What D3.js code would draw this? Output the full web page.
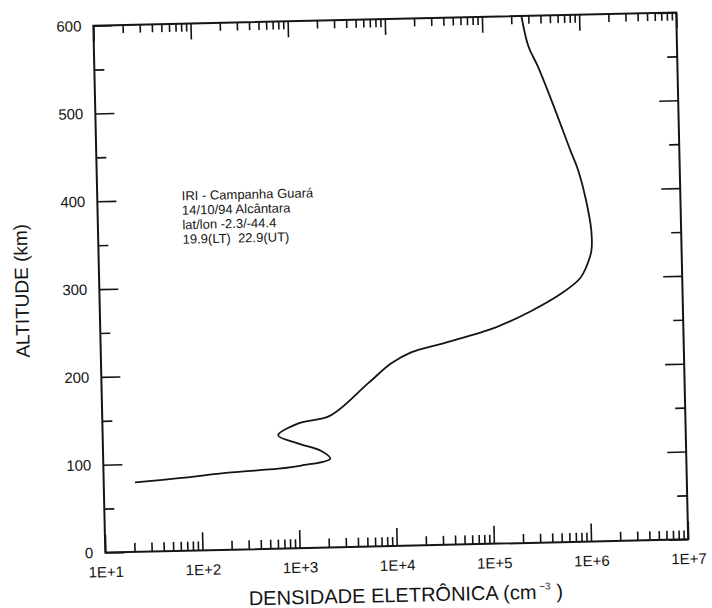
<!DOCTYPE html>
<html>
<head>
<meta charset="utf-8">
<script src="https://cdn.jsdelivr.net/npm/d3@7"></script>
<style>
  body { margin: 0; background: #fff; }
  svg { display: block; font-family: "Liberation Sans", Arial, sans-serif; }
  text { white-space: pre; }
</style>
</head>
<body>
<svg width="712" height="608"></svg>
<script>
// profile (altitude in km, density in cm^-3)
var altitude = [79, 83, 88, 91, 94, 101, 110, 119, 129, 142, 150, 186, 208, 220, 230, 246, 264, 283, 300, 312, 331, 354, 388, 423, 446, 492, 541, 566, 600];
var density = [21, 63, 207, 630, 1090, 2170, 1760, 1030, 640, 1040, 2220, 5560, 9700, 15600, 35000, 116000, 275000, 565000, 890000, 1030000, 1180000, 1190000, 1070000, 900000, 755000, 540000, 370000, 295000, 255000];

var decades = [1e1, 1e2, 1e3, 1e4, 1e5, 1e6, 1e7];
var altTicks = [0, 100, 200, 300, 400, 500, 600];
var altMinor = [50, 150, 250, 350, 450, 550];
var notes = ["IRI - Campanha Guará", "14/10/94 Alcântara", "lat/lon -2.3/-44.4", "19.9(LT)  22.9(UT)"];

function main() {
	var svg = d3.select('svg');
	var left = 99.25, right = 682.25, top = 19, bottom = 546;
	var cx = (left + right) / 2, cy = (top + bottom) / 2;
	var ink = '#151515';

	var minor = [];
	decades.slice(0, -1).forEach(function(d) {
		for (var k = 2; k <= 9; k++) minor.push(k * d);
	});

	var x = d3.scaleLog().domain([1e1, 1e7]).range([left, right]);
	var y = d3.scaleLinear().domain([0, 600]).range([bottom, top]);

	// the scanned page is tilted a little
	var g = svg.append('g')
		.attr('transform', 'rotate(-1.3,' + cx + ',' + cy + ')');

	function styleAxis(sel) {
		sel.select('.domain').remove();
		sel.selectAll('line').attr('stroke', ink).attr('stroke-width', 1.6);
		sel.selectAll('text').attr('fill', ink).attr('font-size', 15)
			.attr('font-family', '"Liberation Sans", Arial, sans-serif');
	}

	// bottom
	g.append('g').attr('transform', 'translate(0,' + bottom + ')')
		.call(d3.axisBottom(x).tickValues(decades).tickSize(-18).tickPadding(14)
			.tickFormat(function(d) { return '1E+' + Math.round(Math.log10(d)); }))
		.call(styleAxis);
	g.append('g').attr('transform', 'translate(0,' + bottom + ')')
		.call(d3.axisBottom(x).tickValues(minor).tickSize(-9).tickFormat(''))
		.call(styleAxis);
	// top
	g.append('g').attr('transform', 'translate(0,' + top + ')')
		.call(d3.axisTop(x).tickValues(decades).tickSize(-16).tickFormat(''))
		.call(styleAxis);
	g.append('g').attr('transform', 'translate(0,' + top + ')')
		.call(d3.axisTop(x).tickValues(minor).tickSize(-8).tickFormat(''))
		.call(styleAxis);
	// left
	g.append('g').attr('transform', 'translate(' + left + ',0)')
		.call(d3.axisLeft(y).tickValues(altTicks).tickSize(-19).tickPadding(12))
		.call(styleAxis);
	g.append('g').attr('transform', 'translate(' + left + ',0)')
		.call(d3.axisLeft(y).tickValues(altMinor).tickSize(-10).tickFormat(''))
		.call(styleAxis);
	// right
	g.append('g').attr('transform', 'translate(' + right + ',0)')
		.call(d3.axisRight(y).tickValues(altTicks).tickSize(-19).tickFormat(''))
		.call(styleAxis);
	g.append('g').attr('transform', 'translate(' + right + ',0)')
		.call(d3.axisRight(y).tickValues(altMinor).tickSize(-10).tickFormat(''))
		.call(styleAxis);

	g.append('rect')
		.attr('x', left).attr('y', top)
		.attr('width', right - left).attr('height', bottom - top)
		.attr('fill', 'none').attr('stroke', ink).attr('stroke-width', 2);

	var line = d3.line()
		.x(function(d, i) { return x(density[i]); })
		.y(function(d) { return y(d); })
		.curve(d3.curveCatmullRom.alpha(0.5));

	g.append('path')
		.attr('d', line(altitude))
		.attr('fill', 'none')
		.attr('stroke', ink)
		.attr('stroke-width', 1.8);

	// note block
	g.append('text')
		.attr('x', x(74)).attr('y', y(399))
		.attr('font-size', 13).attr('fill', ink)
		.selectAll('tspan').data(notes).enter().append('tspan')
		.attr('x', x(74)).attr('dy', function(d, i) { return i ? 14.5 : 0; })
		.text(function(d) { return d; });

	// axis titles
	var xt = g.append('text')
		.attr('x', cx + 8).attr('y', bottom + 56)
		.attr('text-anchor', 'middle')
		.attr('font-size', 20).attr('fill', ink);
	xt.append('tspan').text('DENSIDADE ELETRÔNICA (cm');
	xt.append('tspan').attr('font-size', 10).attr('dy', -9).text(' −3');
	xt.append('tspan').attr('dy', 9).text(' )');

	g.append('text')
		.attr('transform', 'translate(' + (left - 71) + ',' + cy + ') rotate(-90)')
		.attr('text-anchor', 'middle')
		.attr('font-size', 19).attr('fill', ink)
		.text('ALTITUDE (km)');
}
main();
</script>
</body>
</html>
